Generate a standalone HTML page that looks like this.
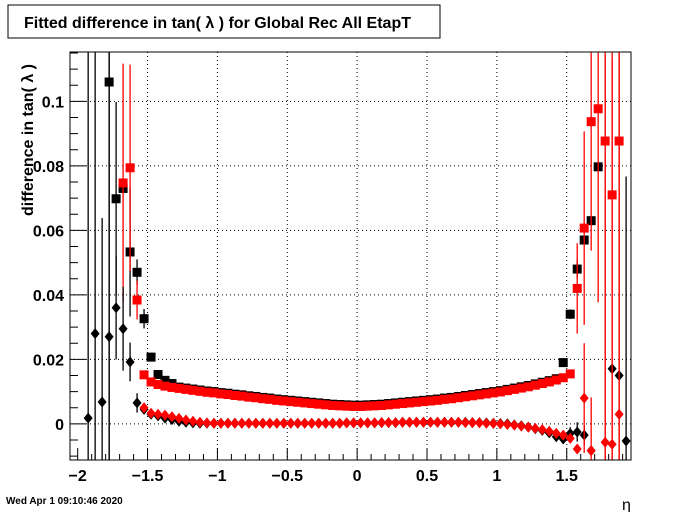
<!DOCTYPE html>
<html><head><meta charset="utf-8"><style>
body{margin:0;background:#fff;font-family:"Liberation Sans",sans-serif}
svg{display:block}
</style></head><body>
<svg id="c" width="700" height="512" xmlns="http://www.w3.org/2000/svg">
<rect x="0" y="0" width="700" height="512" fill="#fff"/>
<rect x="8" y="5" width="432" height="33" fill="#fff" stroke="#000" stroke-width="1"/>
<text x="24" y="28" font-size="16" font-weight="bold">Fitted difference in tan( λ ) for Global Rec All EtapT</text>
<text transform="translate(33,140) rotate(-90)" text-anchor="middle" font-size="16" font-weight="bold">difference in tan( λ )</text>
<text x="622" y="510" font-size="16">η</text>
<text x="6" y="504" font-size="10" font-weight="bold">Wed Apr  1 09:10:46 2020</text>
<g id="grid"></g><g id="marks"></g><g id="axes"></g>
</svg>
<script>
const eta=[-1.925,-1.875,-1.825,-1.775,-1.725,-1.675,-1.625,-1.575,-1.525,-1.475,-1.425,-1.375,-1.325,-1.275,-1.225,-1.175,-1.125,-1.075,-1.025,-0.975,-0.925,-0.875,-0.825,-0.775,-0.725,-0.675,-0.625,-0.575,-0.525,-0.475,-0.425,-0.375,-0.325,-0.275,-0.225,-0.175,-0.125,-0.075,-0.025,0.025,0.075,0.125,0.175,0.225,0.275,0.325,0.375,0.425,0.475,0.525,0.575,0.625,0.675,0.725,0.775,0.825,0.875,0.925,0.975,1.025,1.075,1.125,1.175,1.225,1.275,1.325,1.375,1.425,1.475,1.525,1.575,1.625,1.675,1.725,1.775,1.825,1.875,1.925];
const redSq=[null,null,null,null,null,0.0747,0.0794,0.0384,0.0152,0.0130,0.0122,0.0117,0.0113,0.0110,0.0107,0.0104,0.0101,0.0098,0.0096,0.0093,0.0091,0.0088,0.0086,0.0083,0.0081,0.0078,0.0076,0.0073,0.0071,0.0069,0.0067,0.0065,0.0063,0.0061,0.0059,0.0057,0.0056,0.0055,0.0054,0.0054,0.0055,0.0056,0.0057,0.0059,0.0061,0.0063,0.0065,0.0067,0.0069,0.0071,0.0073,0.0076,0.0078,0.0081,0.0084,0.0087,0.0090,0.0093,0.0096,0.0099,0.0103,0.0107,0.0111,0.0115,0.0120,0.0125,0.0130,0.0136,0.0143,0.0155,0.042,0.0607,0.0937,0.0977,0.0877,0.071,0.0877,null];
const redSqErr=[0,0,0,0,0,0.037,0.032,0.006,0,0,0,0,0,0,0,0,0,0,0,0,0,0,0,0,0,0,0,0,0,0,0,0,0,0,0,0,0,0,0,0,0,0,0,0,0,0,0,0,0,0,0,0,0,0,0,0,0,0,0,0,0,0,0,0,0,0,0,0,0,0,0.014,0.03,0.04,0.06,0.12,0.12,0.12,0];
const blackSq=[null,null,null,0.106,0.0698,0.073,0.0533,0.047,0.0326,0.0207,0.0153,0.0135,0.0125,0.0114,0.0111,0.0108,0.0105,0.0102,0.0100,0.0097,0.0095,0.0092,0.0090,0.0087,0.0085,0.0082,0.0080,0.0077,0.0075,0.0073,0.0071,0.0069,0.0067,0.0065,0.0063,0.0061,0.0060,0.0059,0.0058,0.0058,0.0059,0.0060,0.0061,0.0063,0.0065,0.0067,0.0069,0.0071,0.0073,0.0075,0.0077,0.0080,0.0082,0.0085,0.0088,0.0091,0.0094,0.0097,0.0100,0.0103,0.0107,0.0111,0.0115,0.0119,0.0124,0.0129,0.0134,0.0140,0.019,0.034,0.048,0.057,0.063,0.0797,null,null,null,null];
const blackSqErr=[0,0,0,0.12,0.03,0,0.02,0.004,0.003,0,0,0,0,0,0,0,0,0,0,0,0,0,0,0,0,0,0,0,0,0,0,0,0,0,0,0,0,0,0,0,0,0,0,0,0,0,0,0,0,0,0,0,0,0,0,0,0,0,0,0,0,0,0,0,0,0,0,0,0,0.0015,0.003,0,0,0,0,0,0,0];
const blackDia=[0.0018,0.028,0.0068,0.027,0.036,0.0295,0.0192,0.0065,0.0045,0.0030,0.0025,0.0018,0.0013,0.0008,0.0005,0.0003,0.0002,0.0002,0.0002,0.0002,0.0002,0.0002,0.0002,0.0002,0.0002,0.0002,0.0002,0.0002,0.0002,0.0002,0.0002,0.0002,0.0002,0.0002,0.0002,0.0002,0.0002,0.0003,0.0003,0.0003,0.0003,0.0003,0.0004,0.0004,0.0004,0.0005,0.0005,0.0005,0.0005,0.0005,0.0005,0.0005,0.0005,0.0005,0.0005,0.0004,0.0004,0.0003,0.0002,0.0001,0.0000,-0.0003,-0.0006,-0.0010,-0.0015,-0.0020,-0.0028,-0.0040,-0.0047,-0.003,-0.0025,-0.0035,-0.0083,null,null,0.0171,0.015,-0.0053];
const blackDiaErr=[0.12,0.12,0.057,0.12,0.016,0.013,0.006,0.003,0,0,0,0,0,0,0,0,0,0,0,0,0,0,0,0,0,0,0,0,0,0,0,0,0,0,0,0,0,0,0,0,0,0,0,0,0,0,0,0,0,0,0,0,0,0,0,0,0,0,0,0,0,0,0,0,0,0,0,0,0,0.002,0.003,0.003,0,0,0,0,0,0.082];
const redDia=[null,null,null,null,null,null,null,null,0.005,0.0033,0.0030,0.0027,0.0022,0.0017,0.0012,0.0008,0.0005,0.0003,0.0002,0.0002,0.0002,0.0002,0.0002,0.0002,0.0002,0.0002,0.0002,0.0002,0.0002,0.0002,0.0002,0.0002,0.0002,0.0002,0.0002,0.0002,0.0002,0.0003,0.0003,0.0003,0.0003,0.0003,0.0004,0.0004,0.0004,0.0005,0.0005,0.0005,0.0005,0.0005,0.0005,0.0005,0.0005,0.0005,0.0004,0.0004,0.0003,0.0002,0.0001,0.0000,-0.0002,-0.0004,-0.0007,-0.0010,-0.0014,-0.0018,-0.0023,-0.0029,-0.0035,-0.0045,-0.0078,0.008,-0.0083,null,-0.0057,-0.0063,0.003,null];
const redDiaErr=[0,0,0,0,0,0,0,0,0,0,0,0,0,0,0,0,0,0,0,0,0,0,0,0,0,0,0,0,0,0,0,0,0,0,0,0,0,0,0,0,0,0,0,0,0,0,0,0,0,0,0,0,0,0,0,0,0,0,0,0,0,0,0,0,0,0,0,0,0,0,0,0.017,0.0165,0,0.12,0.12,0.12,0];
const xTicks=[-2,-1.5,-1,-0.5,0,0.5,1,1.5];
const xTickLabels=["−2","−1.5","−1","−0.5","0","0.5","1","1.5"];
const yTicks=[0,0.02,0.04,0.06,0.08,0.1];
const yTickLabels=["0","0.02","0.04","0.06","0.08","0.1"];

const L=70,R=631,T=52,B=460;
const X0=-2.055,X1=1.96,Y0=-0.0112,Y1=0.1153;
const sx=v=>L+(v-X0)/(X1-X0)*(R-L);
const sy=v=>B-(v-Y0)/(Y1-Y0)*(B-T);
const NS="http://www.w3.org/2000/svg";
function mk(tag,attrs,parent){const e=document.createElementNS(NS,tag);for(const k in attrs)e.setAttribute(k,attrs[k]);parent.appendChild(e);return e;}
const grid=document.getElementById('grid'),marks=document.getElementById('marks'),axes=document.getElementById('axes');
const clampY=v=>Math.max(T,Math.min(B,v));

xTicks.forEach((t,i)=>{
  const x=sx(t);
  if(i>0){const g=mk('line',{x1:x,x2:x,y1:T,y2:B,stroke:'#000','stroke-dasharray':'1,3','stroke-width':1},grid);
  
  }
  const tx=mk('text',{x:x,y:481,'text-anchor':'middle','font-size':16,'font-weight':'bold'},axes);
  tx.textContent=xTickLabels[i];
  
  
});
yTicks.forEach((t,i)=>{
  const y=sy(t);
  const g=mk('line',{x1:L,x2:R,y1:y,y2:y,stroke:'#000','stroke-dasharray':'1,3','stroke-width':1},grid);
  
  
  const tx=mk('text',{x:64,y:y+6,'text-anchor':'end','font-size':16,'font-weight':'bold'},axes);
  tx.textContent=yTickLabels[i];
  
  
});
// axis ticks
let td='';
for(let k=-20;k<=19;k++){const v=k/10;if(v<X0||v>X1)continue;const x=sx(v);const len=(k%5===0)?12:6;td+=`M${x},${B}V${B-len}`;}
for(let k=-2;k<=23;k++){const v=k*0.005;if(v<Y0||v>Y1)continue;const y=sy(v);const len=(k%4===0)?16:8;td+=`M${L},${y}H${L+len}`;}
const tk=mk('path',{d:td,stroke:'#000','stroke-width':1,fill:'none'},axes);


const fr=mk('rect',{x:L,y:T,width:R-L,height:B-T,fill:'none',stroke:'#000','stroke-width':1},axes);



function series(vals,errs,color,shape,name){
  const g=mk('g',{},marks);
  
  
  vals.forEach((v,i)=>{
    if(v===null)return;
    const x=sx(eta[i]),y=sy(v);
    if(errs[i]>0){
      const e=mk('line',{x1:x,x2:x,y1:clampY(sy(v+errs[i])),y2:clampY(sy(v-errs[i])),stroke:color,'stroke-width':1.3},g);
      
      
    }
    if(y<T||y>B)return;
    let m;
    if(shape==='sq') m=mk('rect',{x:x-4.5,y:y-4.5,width:9,height:9,fill:color},g);
    else m=mk('polygon',{points:`${x},${y-5.5} ${x+4.5},${y} ${x},${y+5.5} ${x-4.5},${y}`,fill:color},g);
    
    
  });
}
series(blackSq,blackSqErr,'#000','sq','black-square-series');
series(redSq,redSqErr,'#f00','sq','red-square-series');
series(blackDia,blackDiaErr,'#000','dia','black-diamond-series');
series(redDia,redDiaErr,'#f00','dia','red-diamond-series');
</script>
</body></html>
